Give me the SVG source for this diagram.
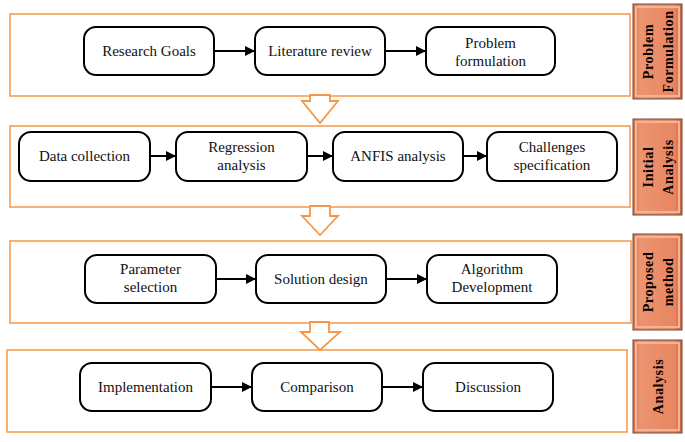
<svg xmlns="http://www.w3.org/2000/svg" width="685" height="442" viewBox="0 0 685 442">
<style>
.frame{fill:#fff;stroke:#F79646;stroke-width:1.5}
.node rect{fill:#fff;stroke:#000;stroke-width:2}
.node text{font-family:"Liberation Serif","Times New Roman",serif;font-size:15px;fill:#111;text-anchor:middle}
.conn line{stroke:#000;stroke-width:2;marker-end:url(#ah)}
.down{fill:#fff;stroke:#F79646;stroke-width:1.8;stroke-linejoin:miter}
.side .bg{fill:url(#sg);stroke:#6e4a3c;stroke-width:1}
.side .bev{fill:none;stroke:#f6b393;stroke-width:2}
.side text{font-family:"Liberation Serif","Times New Roman",serif;font-size:14px;font-weight:bold;fill:#000;text-anchor:middle;letter-spacing:0.6px}
</style>
<defs>
<marker id="ah" markerWidth="10" markerHeight="10" refX="10" refY="5" orient="auto" markerUnits="userSpaceOnUse">
<path d="M0,0 L10,5 L0,10 Z" fill="#000"/>
</marker>
<linearGradient id="sg" x1="0" y1="0" x2="1" y2="0">
<stop offset="0" stop-color="#d9724f"/>
<stop offset="0.15" stop-color="#ec9470"/>
<stop offset="0.85" stop-color="#e88661"/>
<stop offset="1" stop-color="#c6603f"/>
</linearGradient>
</defs>

<g id="frames">
<rect id="frame1" class="frame" x="10" y="14" width="620" height="82"/>
<rect id="frame2" class="frame" x="10" y="126" width="620" height="81"/>
<rect id="frame3" class="frame" x="10" y="241" width="621" height="82"/>
<rect id="frame4" class="frame" x="7" y="350" width="620" height="82"/>
</g>

<g id="down-arrows">
<path class="down" d="M310,95 L330,95 L330,101 L338,101 L320,123 L302,101 L310,101 Z"/>
<path class="down" d="M310,206 L330,206 L330,216 L338,216 L320,235 L302,216 L310,216 Z"/>
<path class="down" d="M310,322 L329,322 L329,332 L340,332 L320,350 L301,332 L310,332 Z"/>
</g>

<g id="n1" class="node"><rect x="84" y="27" width="130" height="48" rx="12"/><text x="149" y="56">Research Goals</text></g>
<g id="n2" class="node"><rect x="255" y="27" width="130" height="48" rx="12"/><text x="320" y="56">Literature review</text></g>
<g id="n3" class="node"><rect x="426" y="27" width="129" height="48" rx="12"/><text x="490.5" y="48">Problem</text><text x="490.5" y="66">formulation</text></g>

<g id="n4" class="node"><rect x="19" y="132" width="131" height="49" rx="12"/><text x="84.5" y="161">Data collection</text></g>
<g id="n5" class="node"><rect x="176" y="132" width="131" height="49" rx="12"/><text x="241.5" y="152">Regression</text><text x="241.5" y="170">analysis</text></g>
<g id="n6" class="node"><rect x="333" y="132" width="130" height="49" rx="12"/><text x="398" y="161">ANFIS analysis</text></g>
<g id="n7" class="node"><rect x="487" y="132" width="130" height="49" rx="12"/><text x="552" y="152">Challenges</text><text x="552" y="170">specification</text></g>

<g id="n8" class="node"><rect x="85" y="255" width="131" height="48" rx="12"/><text x="150.5" y="274">Parameter</text><text x="150.5" y="292">selection</text></g>
<g id="n9" class="node"><rect x="256" y="255" width="130" height="48" rx="12"/><text x="321" y="284">Solution design</text></g>
<g id="n10" class="node"><rect x="427" y="255" width="130" height="48" rx="12"/><text x="492" y="274">Algorithm</text><text x="492" y="292">Development</text></g>

<g id="n11" class="node"><rect x="80" y="363" width="131" height="48" rx="12"/><text x="145.5" y="392">Implementation</text></g>
<g id="n12" class="node"><rect x="252" y="363" width="130" height="48" rx="12"/><text x="317" y="392">Comparison</text></g>
<g id="n13" class="node"><rect x="423" y="363" width="130" height="48" rx="12"/><text x="488" y="392">Discussion</text></g>

<g id="connectors" class="conn">
<line x1="214" y1="51" x2="255" y2="51"/>
<line x1="385" y1="51" x2="426" y2="51"/>
<line x1="150" y1="156" x2="176" y2="156"/>
<line x1="307" y1="156" x2="333" y2="156"/>
<line x1="463" y1="156" x2="487" y2="156"/>
<line x1="216" y1="279" x2="256" y2="279"/>
<line x1="386" y1="279" x2="427" y2="279"/>
<line x1="211" y1="387" x2="252" y2="387"/>
<line x1="382" y1="387" x2="423" y2="387"/>
</g>

<g id="s1" class="side">
<rect class="bg" x="633" y="4" width="49" height="95"/>
<rect class="bev" x="636" y="7" width="43" height="89"/>
<text transform="translate(657.5,51.5) rotate(-90)"><tspan x="0" y="-4.5">Problem</tspan><tspan x="0" y="15.5">Formulation</tspan></text>
</g>
<g id="s2" class="side">
<rect class="bg" x="633" y="119" width="49" height="96"/>
<rect class="bev" x="636" y="122" width="43" height="90"/>
<text transform="translate(657.5,167) rotate(-90)"><tspan x="0" y="-4.5">Initial</tspan><tspan x="0" y="15.5">Analysis</tspan></text>
</g>
<g id="s3" class="side">
<rect class="bg" x="633" y="234" width="49" height="96"/>
<rect class="bev" x="636" y="237" width="43" height="90"/>
<text transform="translate(657.5,282) rotate(-90)"><tspan x="0" y="-4.5">Proposed</tspan><tspan x="0" y="15.5">method</tspan></text>
</g>
<g id="s4" class="side">
<rect class="bg" x="633" y="340" width="49" height="93"/>
<rect class="bev" x="636" y="343" width="43" height="87"/>
<text transform="translate(657.5,386.5) rotate(-90)"><tspan x="0" y="5">Analysis</tspan></text>
</g>
</svg>
